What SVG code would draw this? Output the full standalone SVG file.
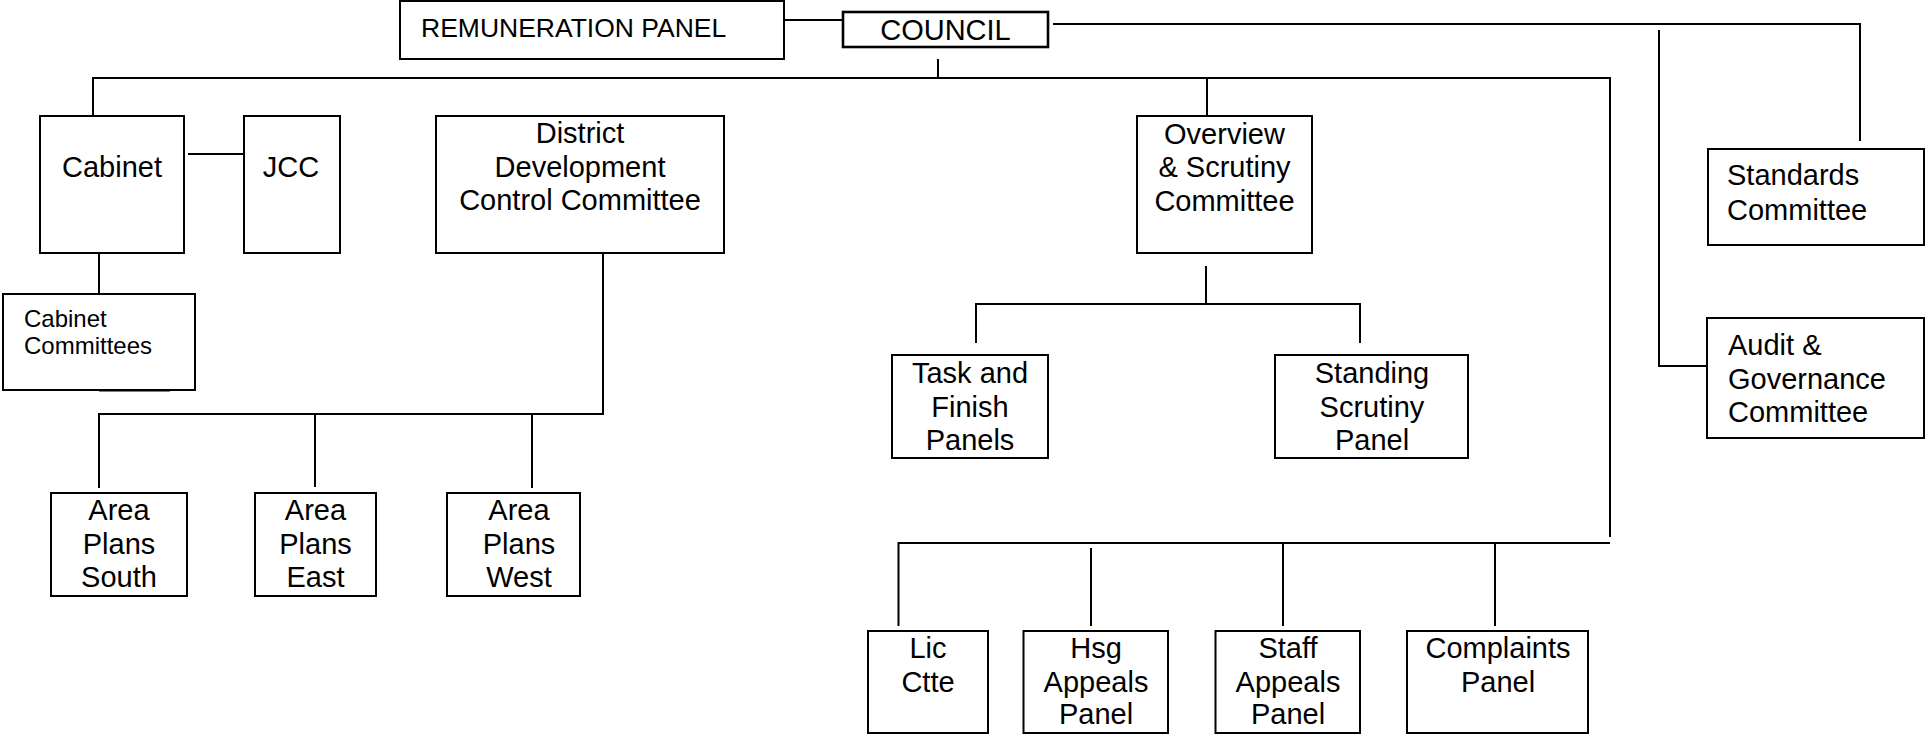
<svg xmlns="http://www.w3.org/2000/svg" width="1926" height="736" viewBox="0 0 1926 736">
<style>
.box{fill:#fff;stroke:#000;stroke-width:2}
.thick{stroke-width:2.6}
.ln{fill:none;stroke:#000;stroke-width:2}
text{font-family:"Liberation Sans",Arial,sans-serif;font-size:29px;fill:#000}
.c{text-anchor:middle}
.s{font-size:24px}
</style>
<rect width="1926" height="736" fill="#fff"/>
<g id="connectors">
<path class="ln" d="M784,20H843"/>
<path class="ln" d="M1053,24H1860V141"/>
<path class="ln" d="M938,59V78"/>
<path class="ln" d="M93,117V78H1610V537"/>
<path class="ln" d="M1207,78V116"/>
<path class="ln" d="M1659,30V366H1707"/>
<path class="ln" d="M188,154H246"/>
<path class="ln" d="M99,246V294"/>
<path class="ln" d="M99,390H170" style="stroke-width:3"/>
<path class="ln" d="M603,246V414H99V488"/>
<path class="ln" d="M315,414V487"/>
<path class="ln" d="M532,414V488"/>
<path class="ln" d="M1206,266V304H976V343"/>
<path class="ln" d="M1206,304H1360V343"/>
<path class="ln" d="M1610,543H898.5V626"/>
<path class="ln" d="M1091,548V626"/>
<path class="ln" d="M1283,543V626"/>
<path class="ln" d="M1495,543V626"/>
</g>
<g id="remuneration"><rect class="box" x="400" y="1" width="384" height="58"/><text x="421" y="37" style="font-size:26.5px">REMUNERATION PANEL</text></g>
<g id="council"><rect class="box thick" x="843" y="12" width="205" height="35"/><text class="c" x="945.5" y="40" style="font-size:29px">COUNCIL</text></g>
<g id="cabinet"><rect class="box" x="40" y="116" width="144" height="137"/><text class="c" x="112" y="177">Cabinet</text></g>
<g id="jcc"><rect class="box" x="244" y="116" width="96" height="137"/><text class="c" x="291" y="177">JCC</text></g>
<g id="ddc"><rect class="box" x="436" y="116" width="288" height="137"/><text class="c" x="580" y="143">District</text><text class="c" x="580" y="177">Development</text><text class="c" x="580" y="210">Control Committee</text></g>
<g id="overview"><rect class="box" x="1137" y="116" width="175" height="137"/><text class="c" x="1224.5" y="144">Overview</text><text class="c" x="1224.5" y="177">&amp; Scrutiny</text><text class="c" x="1224.5" y="211">Committee</text></g>
<g id="standards"><rect class="box" x="1708" y="149" width="216" height="96"/><text x="1727" y="185">Standards</text><text x="1727" y="220">Committee</text></g>
<g id="audit"><rect class="box" x="1707" y="318" width="217" height="120"/><text x="1728" y="355">Audit &amp;</text><text x="1728" y="389">Governance</text><text x="1728" y="422">Committee</text></g>
<g id="cabinet-committees"><rect class="box" x="3" y="294" width="192" height="96"/><text class="s" x="24" y="327">Cabinet</text><text class="s" x="24" y="354">Committees</text></g>
<g id="task"><rect class="box" x="892" y="355" width="156" height="103"/><text class="c" x="970" y="383">Task and</text><text class="c" x="970" y="417">Finish</text><text class="c" x="970" y="450">Panels</text></g>
<g id="standing"><rect class="box" x="1275" y="355" width="193" height="103"/><text class="c" x="1372" y="383">Standing</text><text class="c" x="1372" y="417">Scrutiny</text><text class="c" x="1372" y="450">Panel</text></g>
<g id="area-south"><rect class="box" x="51" y="493" width="136" height="103"/><text class="c" x="119" y="520">Area</text><text class="c" x="119" y="554">Plans</text><text class="c" x="119" y="587">South</text></g>
<g id="area-east"><rect class="box" x="255" y="493" width="121" height="103"/><text class="c" x="315.5" y="520">Area</text><text class="c" x="315.5" y="554">Plans</text><text class="c" x="315.5" y="587">East</text></g>
<g id="area-west"><rect class="box" x="447" y="493" width="133" height="103"/><text class="c" x="519" y="520">Area</text><text class="c" x="519" y="554">Plans</text><text class="c" x="519" y="587">West</text></g>
<g id="lic"><rect class="box" x="868" y="631" width="120" height="102"/><text class="c" x="928" y="658">Lic</text><text class="c" x="928" y="692">Ctte</text></g>
<g id="hsg"><rect class="box" x="1023.5" y="631" width="144.5" height="102"/><text class="c" x="1096" y="658">Hsg</text><text class="c" x="1096" y="692">Appeals</text><text class="c" x="1096" y="724">Panel</text></g>
<g id="staff"><rect class="box" x="1215.5" y="631" width="144.5" height="102"/><text class="c" x="1288" y="658">Staff</text><text class="c" x="1288" y="692">Appeals</text><text class="c" x="1288" y="724">Panel</text></g>
<g id="complaints"><rect class="box" x="1407" y="631" width="181" height="102"/><text class="c" x="1498" y="658">Complaints</text><text class="c" x="1498" y="692">Panel</text></g>
</svg>
